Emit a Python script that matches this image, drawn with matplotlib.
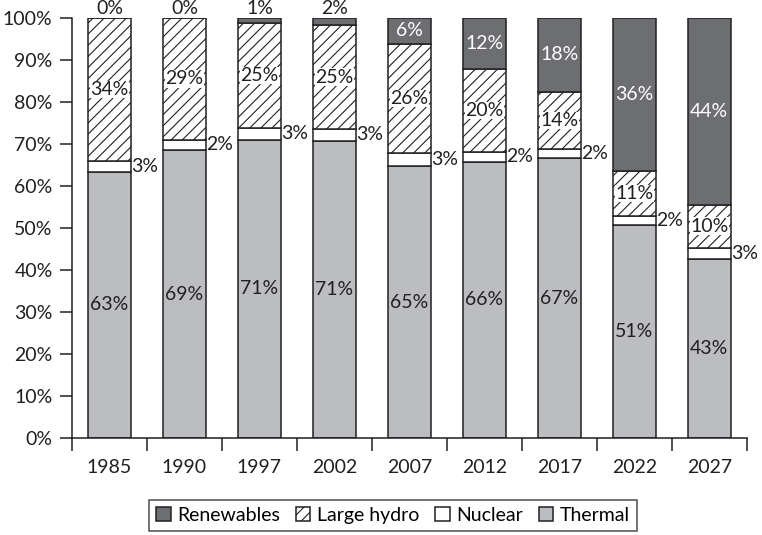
import numpy as np
import matplotlib
matplotlib.use('Agg')
import matplotlib.pyplot as plt

plt.rcParams['font.family'] = ['Lato', 'DejaVu Sans']
plt.rcParams['hatch.linewidth'] = 0.8

years = ['1985', '1990', '1997', '2002', '2007', '2012', '2017', '2022', '2027']
thermal = [63.4, 68.6, 71.0, 70.7, 64.8, 65.8, 66.7, 50.7, 42.6]
nuclear = [2.6, 2.4, 2.9, 2.9, 3.0, 2.4, 2.1, 2.2, 2.7]
hydro = [34.0, 29.0, 24.8, 24.7, 26.1, 19.6, 13.6, 10.7, 10.3]
renewables = [0.0, 0.0, 1.3, 1.7, 6.1, 12.2, 17.6, 36.4, 44.4]

edge = '#231f20'
c_thermal = '#bcbdc0'
c_renew = '#6d6e71'
lw = 1.1
fs = 14

fig = plt.figure(figsize=(7.62, 5.35), dpi=100)
ax = fig.add_axes([0.0945, 0.181, 0.8855, 0.7854])

x = np.arange(len(years))
w = 0.57
thermal = np.array(thermal)
nuclear = np.array(nuclear)
hydro = np.array(hydro)
renewables = np.array(renewables)

b1 = ax.bar(x, thermal, w, color=c_thermal, edgecolor=edge, linewidth=lw, label='Thermal')
b2 = ax.bar(x, nuclear, w, bottom=thermal, color='white', edgecolor=edge, linewidth=lw, label='Nuclear')
b3 = ax.bar(x, hydro, w, bottom=thermal + nuclear, color='white', edgecolor=edge,
            linewidth=lw, hatch='///', label='Large hydro')
b4 = ax.bar(x, renewables, w, bottom=thermal + nuclear + hydro, color=c_renew,
            edgecolor=edge, linewidth=lw, label='Renewables')

for i in range(len(years)):
    ax.text(x[i], thermal[i] / 2, f'{thermal[i]:.0f}%', ha='center', va='center',
            fontsize=fs, color=edge)
    ax.text(x[i] + w / 2 + 0.01, thermal[i] + nuclear[i] / 2, f'{nuclear[i]:.0f}%',
            ha='left', va='center', fontsize=fs, color=edge)
    hb = thermal[i] + nuclear[i]
    ax.text(x[i], hb + hydro[i] / 2, f'{hydro[i]:.0f}%', ha='center', va='center',
            fontsize=fs, color=edge,
            bbox=dict(boxstyle='square,pad=0.02', facecolor='white', edgecolor='none'))
    rb = hb + hydro[i]
    if renewables[i] < 4:
        ax.text(x[i], 100.2, f'{renewables[i]:.0f}%', ha='center', va='bottom',
                fontsize=fs, color=edge)
    else:
        ax.text(x[i], rb + renewables[i] / 2, f'{renewables[i]:.0f}%', ha='center',
                va='center', fontsize=fs, color='white')

ax.set_xlim(-0.5, len(years) - 0.5)
ax.set_ylim(0, 100)
ax.set_yticks(np.arange(0, 101, 10))
ax.set_yticklabels([f'{v}%' for v in range(0, 101, 10)], fontsize=fs, color=edge)
ax.set_xticks(np.arange(-0.5, len(years), 1))
ax.set_xticklabels([])
ax.set_xticks(x, minor=True)
ax.set_xticklabels(years, minor=True, fontsize=fs, color=edge)
ax.tick_params(axis='x', which='minor', length=0, pad=15)
ax.tick_params(axis='x', which='major', length=9, width=lw, color=edge)
ax.tick_params(axis='y', length=9, width=lw, color=edge, pad=5)
for s in ['top', 'right']:
    ax.spines[s].set_visible(False)
for s in ['left', 'bottom']:
    ax.spines[s].set_linewidth(lw)
    ax.spines[s].set_color(edge)

leg = fig.legend(handles=[b4, b3, b2, b1], labels=['Renewables', 'Large hydro', 'Nuclear', 'Thermal'],
                 loc='center', bbox_to_anchor=(0.516, 0.037), ncol=4, fontsize=fs,
                 frameon=True, fancybox=False, edgecolor=edge, handlelength=0.75,
                 handleheight=0.75, handletextpad=0.35, columnspacing=0.8,
                 borderpad=0.35)
leg.get_frame().set_linewidth(lw)

fig.savefig('out.png', dpi=100)
